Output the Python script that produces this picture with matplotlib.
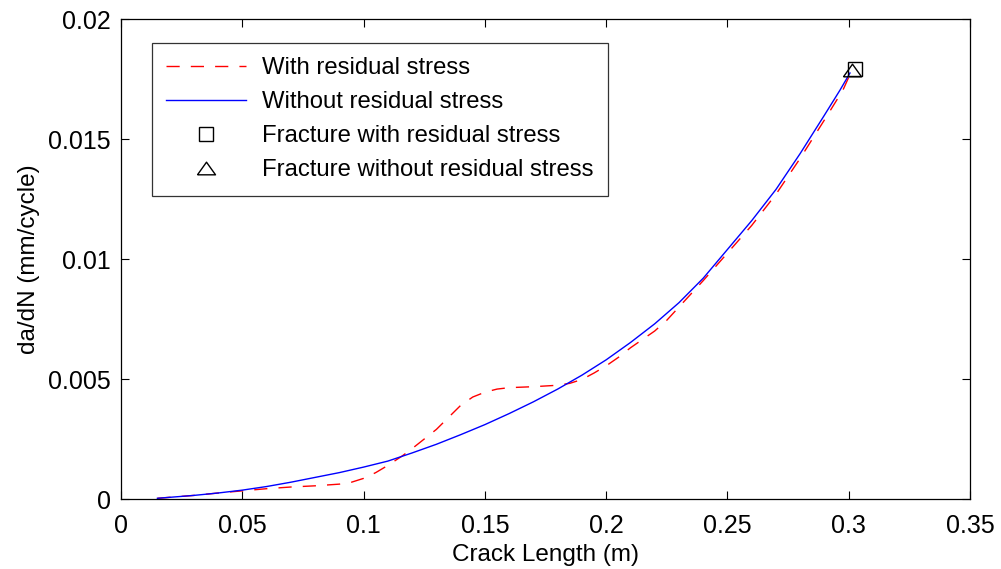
import matplotlib
matplotlib.use("Agg")
import matplotlib.pyplot as plt

plt.rcParams['font.family'] = ['Liberation Sans', 'DejaVu Sans']

# crack growth rate without residual stress
a_without = [0.015, 0.02, 0.03, 0.04, 0.05, 0.06, 0.07, 0.08, 0.09, 0.1, 0.11, 0.12,
             0.13, 0.14, 0.15, 0.16, 0.17, 0.18, 0.19, 0.2, 0.21, 0.22, 0.23, 0.24,
             0.25, 0.26, 0.27, 0.28, 0.29, 0.2964, 0.3005]
dadn_without = [0.00003, 0.00007, 0.00015, 0.00025, 0.00037, 0.00052, 0.0007, 0.0009,
                0.0011, 0.00133, 0.00158, 0.00192, 0.00228, 0.00268, 0.0031, 0.00356,
                0.00405, 0.00458, 0.00516, 0.0058, 0.00652, 0.0073, 0.00818, 0.0092,
                0.0104, 0.0116, 0.0129, 0.0144, 0.016, 0.01704, 0.01775]

# crack growth rate with residual stress
a_with = [0.015, 0.02, 0.03, 0.04, 0.05, 0.06, 0.07, 0.08, 0.09, 0.095, 0.1, 0.105,
          0.11, 0.116, 0.12, 0.125, 0.13, 0.135, 0.14, 0.145, 0.15, 0.155, 0.16, 0.17,
          0.18, 0.185, 0.19, 0.195, 0.2, 0.205, 0.21, 0.215, 0.22, 0.225, 0.23, 0.24,
          0.25, 0.26, 0.27, 0.28, 0.29, 0.2976, 0.301]
dadn_with = [0.00003, 0.00007, 0.00015, 0.00025, 0.00034, 0.00043, 0.0005, 0.00055,
             0.00062, 0.0007, 0.00086, 0.0011, 0.0014, 0.0018, 0.0021, 0.0025, 0.0029,
             0.0034, 0.0039, 0.00425, 0.00445, 0.00458, 0.00464, 0.00468, 0.00474,
             0.00482, 0.00498, 0.00525, 0.00555, 0.0059, 0.0063, 0.00665, 0.007,
             0.00745, 0.008, 0.0091, 0.01025, 0.0114, 0.0127, 0.0142, 0.0158, 0.01704,
             0.0178]

# fracture points
frac_with = (0.3025, 0.0179)
frac_without = (0.3012, 0.01787)

xticks = [0, 0.05, 0.1, 0.15, 0.2, 0.25, 0.3, 0.35]
xticklabels = ['0', '0.05', '0.1', '0.15', '0.2', '0.25', '0.3', '0.35']
yticks = [0, 0.005, 0.01, 0.015, 0.02]
yticklabels = ['0', '0.005', '0.01', '0.015', '0.02']

fig = plt.figure(figsize=(10.01, 5.69), dpi=100)
ax = fig.add_axes([0.1209, 0.123, 0.8482, 0.8436])

ax.plot(a_with, dadn_with, color='red', lw=1.0, dashes=(9.5, 8), label='With residual stress')
ax.plot(a_without, dadn_without, color='blue', lw=1.0, label='Without residual stress')
ax.plot(frac_with[0], frac_with[1], ls='none', marker='s', ms=10, mfc='none',
        mec='black', mew=1.0, label='Fracture with residual stress')
tri = [(-1, -0.7), (1, -0.7), (0, 0.7), (-1, -0.7)]
ax.plot(frac_without[0], frac_without[1], ls='none', marker=tri, ms=13, mfc='none',
        mec='black', mew=1.0, label='Fracture without residual stress')

ax.set_xlim(0, 0.35)
ax.set_ylim(0, 0.02)
ax.set_xticks(xticks)
ax.set_xticklabels(xticklabels)
ax.set_yticks(yticks)
ax.set_yticklabels(yticklabels)
ax.tick_params(direction='in', length=6, width=0.8, labelsize=18,
               top=True, right=True)
ax.tick_params(axis='x', pad=11)
ax.tick_params(axis='y', pad=7.5)
for s in ax.spines.values():
    s.set_linewidth(0.9)

ax.set_xlabel('Crack Length (m)', fontsize=17.5, labelpad=4)
ax.set_ylabel('da/dN (mm/cycle)', fontsize=17.5, labelpad=6)

leg = ax.legend(loc='upper left', bbox_to_anchor=(0.0365, 0.95), fontsize=17.2,
                frameon=True, fancybox=False, edgecolor='black', handlelength=3.35,
                handletextpad=0.67, borderpad=0.6, labelspacing=0.5,
                borderaxespad=0)
leg.get_frame().set_linewidth(0.9)

fig.savefig('out.png', dpi=100)
